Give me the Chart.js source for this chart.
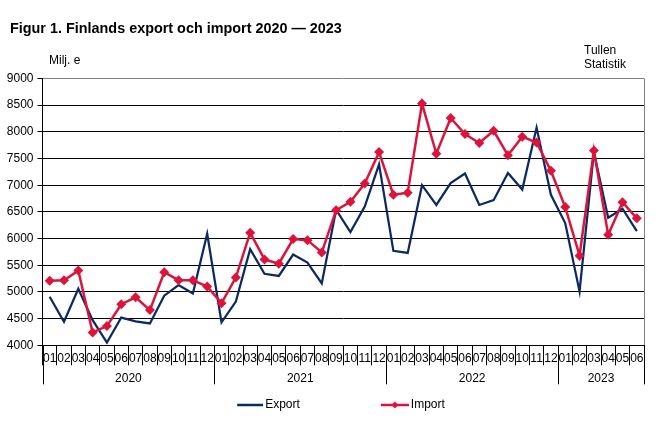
<!DOCTYPE html>
<html><head><meta charset="utf-8">
<style>html,body{margin:0;padding:0;background:#fff}canvas{display:block}</style>
<script src="https://cdn.jsdelivr.net/npm/chart.js@4"></script></head>
<body><canvas id="c" width="661" height="431"></canvas>
<script>
const months=["01","02","03","04","05","06","07","08","09","10","11","12","01","02","03","04","05","06","07","08","09","10","11","12","01","02","03","04","05","06","07","08","09","10","11","12","01","02","03","04","05","06"];
const years=["2020","2021","2022","2023"];
const yearLengths=[12,12,12,6];
const exportValues=[4910,4440,5060,4470,4050,4520,4450,4410,4930,5130,4970,6090,4430,4820,5800,5340,5300,5700,5550,5160,6540,6120,6600,7390,5770,5730,7000,6630,7040,7220,6630,6720,7230,6920,8080,6820,6290,5010,7620,6390,6560,6140];
const importValues=[5210,5220,5400,4240,4360,4770,4900,4660,5370,5220,5220,5100,4790,5270,6110,5610,5530,5990,5970,5740,6530,6690,7030,7620,6820,6860,8530,7590,8260,7960,7790,8020,7560,7910,7800,7270,6590,5680,7650,6070,6680,6380];
const titleText="Figur 1. Finlands export och import 2020 — 2023";
const unitText="Milj. e";
const sourceLines=["Tullen","Statistik"];
const NAVY="#0b2a63",RED="#dc143c",FONT="'Liberation Sans',Arial,sans-serif";

function legendIcon(color,marker){
  const w=103,h=12,c=document.createElement('canvas');c.width=w;c.height=h;
  const g=c.getContext('2d');
  const len=marker?28:26;
  g.strokeStyle=color;g.lineWidth=2.5;g.beginPath();g.moveTo(w-len,6);g.lineTo(w,6);g.stroke();
  if(marker){g.fillStyle=color;g.beginPath();const m=w-len/2;g.moveTo(m,2.5);g.lineTo(m+3.5,6);g.lineTo(m,9.5);g.lineTo(m-3.5,6);g.closePath();g.fill();}
  return c;
}
const icons=[legendIcon(NAVY,false),legendIcon(RED,true)];

const extras={
  id:'extras',
  afterLayout(ch){ch.legend.left-=20;ch.legend.right-=20;ch.titleBlock.left+=5;ch.titleBlock.right+=5;},
  afterDraw(ch){
    const g=ch.ctx,a=ch.chartArea,x=ch.scales.x;
    g.save();
    g.strokeStyle="#808080";g.lineWidth=1;g.beginPath();
    const rx=Math.round(a.right)+.5;g.moveTo(rx,a.top);g.lineTo(rx,a.bottom);g.stroke();
    const step=x.getPixelForValue(1)-x.getPixelForValue(0);
    g.strokeStyle="#000";g.fillStyle="#000";g.font="12px "+FONT;g.textAlign="center";g.textBaseline="middle";
    let start=0;
    const edge=i=>x.getPixelForValue(i)-step/2;
    const vline=p=>{const q=Math.round(p)+.5;g.beginPath();g.moveTo(q,a.bottom);g.lineTo(q,a.bottom+39);g.stroke();};
    vline(edge(0));
    years.forEach((y,k)=>{
      const end=start+yearLengths[k];
      vline(edge(end));
      g.fillText(y,(edge(start)+edge(end))/2,379);
      start=end;
    });
    g.textAlign="left";
    g.fillText(unitText,49,61);
    sourceLines.forEach((t,i)=>g.fillText(t,584,51+i*14));
    g.restore();
  }
};

new Chart(document.getElementById('c'),{
  type:'line',
  data:{labels:months,datasets:[
    {label:"Export",data:exportValues,borderColor:NAVY,backgroundColor:NAVY,borderWidth:2.25,pointRadius:0,tension:0,order:2},
    {label:"Import",data:importValues,borderColor:RED,backgroundColor:RED,borderWidth:2.5,pointStyle:'rectRot',pointRadius:5,pointBackgroundColor:RED,pointBorderColor:RED,pointBorderWidth:0,tension:0,order:1}
  ]},
  plugins:[extras],
  options:{
    responsive:false,animation:false,devicePixelRatio:1,
    layout:{padding:{left:5,right:17,top:0,bottom:10}},
    scales:{
      x:{type:'category',offset:true,
        grid:{offset:true,drawOnChartArea:false,tickLength:20,color:"#000",tickColor:"#000"},
        border:{color:"#000"},
        ticks:{autoSkip:false,maxRotation:0,minRotation:0,padding:-14,color:"#000",font:{family:FONT,size:12}},
        afterFit(s){s.height=43.7;}},
      y:{min:4000,max:9000,
        grid:{color:c=>c.tick.value===9000?"#808080":"#000",tickColor:"#000",tickLength:5,lineWidth:1},
        border:{color:"#000"},
        ticks:{stepSize:500,padding:4,color:"#000",font:{family:FONT,size:12},callback:v=>String(v)},
        afterFit(s){s.width=37.5;}}
    },
    plugins:{
      tooltip:{enabled:false},
      title:{display:true,text:titleText,align:'start',color:"#000",font:{family:FONT,size:14.4,weight:'bold'},padding:{top:20,bottom:41.2}},
      legend:{display:true,position:'bottom',
        labels:{usePointStyle:true,pointStyleWidth:95,padding:10,color:"#000",font:{family:FONT,size:12},
          generateLabels(ch){return Chart.defaults.plugins.legend.labels.generateLabels(ch).map((it,i)=>({...it,pointStyle:icons[i],text:ch.data.datasets[i].label}));}}}
    }
  }
});
</script></body></html>
